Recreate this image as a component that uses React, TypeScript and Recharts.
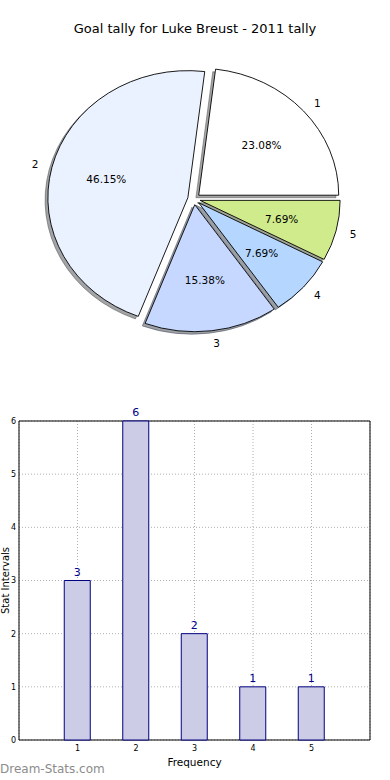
import React from 'react'
import { PieChart, Pie, Cell, BarChart, Bar, XAxis, YAxis, CartesianGrid, LabelList, ReferenceArea } from 'recharts'

// pie slices
const sliceNames = ['1', '2', '3', '4', '5']
const sliceValues = [3, 6, 2, 1, 1]
const sliceColors = ['#ffffff', '#ebf2ff', '#c6d8ff', '#b4d6ff', '#cfeb8b']

// bar chart
const barCategories = [1, 2, 3, 4, 5]
const barValues = [3, 6, 2, 1, 1]
const xTicks = [1, 2, 3, 4, 5]
const yTicks = [0, 1, 2, 3, 4, 5, 6]

const pieData = sliceNames.map((name, i) => ({ name, value: sliceValues[i] }))
const barData = barCategories.map((freq, i) => ({ freq, count: barValues[i] }))

const FONT = '"DejaVu Sans", sans-serif'
const RAD = Math.PI / 180
const Y_RATIO = 127 / 140 // pie is squashed like the original axes
const EXPLODE = 0.045
const SHADOW_DX = -2.8
const SHADOW_DY = 2.5

const explodeOffset = (mid: number, r: number) => ({
  ox: EXPLODE * r * Math.cos(mid * RAD),
  oy: -EXPLODE * r * Y_RATIO * Math.sin(mid * RAD),
})

const wedgePath = (cx: number, cy: number, rx: number, ry: number, a0: number, a1: number) => {
  const x0 = cx + rx * Math.cos(a0 * RAD)
  const y0 = cy - ry * Math.sin(a0 * RAD)
  const x1 = cx + rx * Math.cos(a1 * RAD)
  const y1 = cy - ry * Math.sin(a1 * RAD)
  const large = Math.abs(a1 - a0) > 180 ? 1 : 0
  const sweep = a1 > a0 ? 0 : 1
  return `M${cx},${cy} L${x0},${y0} A${rx},${ry} 0 ${large} ${sweep} ${x1},${y1} Z`
}

const Wedge = (props: any) => {
  const { cx, cy, outerRadius, startAngle, endAngle, fill } = props
  const { ox, oy } = explodeOffset((startAngle + endAngle) / 2, outerRadius)
  return (
    <path
      d={wedgePath(cx + ox, cy + oy, outerRadius, outerRadius * Y_RATIO, startAngle, endAngle)}
      fill={fill}
      stroke="#000"
      strokeWidth={0.9}
      strokeLinejoin="round"
    />
  )
}

const WedgeShadow = (props: any) => {
  const { cx, cy, outerRadius, startAngle, endAngle, fill } = props
  const { ox, oy } = explodeOffset((startAngle + endAngle) / 2, outerRadius)
  return (
    <path
      d={wedgePath(cx + ox + SHADOW_DX, cy + oy + SHADOW_DY, outerRadius, outerRadius * Y_RATIO, startAngle, endAngle)}
      fill={fill}
      fillOpacity={0.5}
      stroke={fill}
      strokeOpacity={0.5}
      strokeWidth={1}
    />
  )
}

const shade = (hex: string) => {
  const n = parseInt(hex.slice(1), 16)
  const r = Math.round(((n >> 16) & 255) * 0.3)
  const g = Math.round(((n >> 8) & 255) * 0.3)
  const b = Math.round((n & 255) * 0.3)
  return `rgb(${r},${g},${b})`
}

const pieLabel = (props: any) => {
  const { cx, cy, midAngle, outerRadius, percent, name } = props
  const { ox, oy } = explodeOffset(midAngle, outerRadius)
  const rx = outerRadius
  const ry = outerRadius * Y_RATIO
  const c = Math.cos(midAngle * RAD)
  const s = Math.sin(midAngle * RAD)
  return (
    <g>
      <text
        x={cx + ox + 1.1 * rx * c}
        y={cy + oy - 1.1 * ry * s}
        textAnchor={c > 0 ? 'start' : 'end'}
        dominantBaseline="central"
        fontSize={10.5}
        fontFamily={FONT}
        fill="#000"
      >
        {name}
      </text>
      <text
        x={cx + ox + 0.6 * rx * c}
        y={cy + oy - 0.6 * ry * s}
        textAnchor="middle"
        dominantBaseline="central"
        fontSize={10.5}
        fontFamily={FONT}
        fill="#000"
      >
        {(percent * 100).toFixed(2) + '%'}
      </text>
    </g>
  )
}

const yLabel = (props: any) => {
  const vb = props.viewBox || { x: 0, y: 421, width: 19, height: 319 }
  const x = 8.5
  const y = vb.y + vb.height / 2
  return (
    <text x={x} y={y} transform={`rotate(-90, ${x}, ${y})`} textAnchor="middle" fontSize={10} fontFamily={FONT} fill="#000">
      Stat Intervals
    </text>
  )
}

export default function App() {
  return (
    <div style={{ position: 'absolute', left: 0, top: 0, width: 390, height: 780, background: '#fff', fontFamily: FONT }}>
      <div style={{ position: 'absolute', left: 0, top: 21, width: 390, textAlign: 'center', fontSize: 13, color: '#000' }}>
        Goal tally for Luke Breust - 2011 tally
      </div>

      <div style={{ position: 'absolute', left: 0, top: 0 }}>
        <PieChart width={390} height={370} margin={{ top: 0, right: 0, bottom: 0, left: 0 }}>
          <Pie
            data={pieData}
            dataKey="value"
            nameKey="name"
            cx={194}
            cy={199}
            outerRadius={140}
            startAngle={0}
            endAngle={360}
            stroke="none"
            isAnimationActive={false}
            shape={WedgeShadow}
            inactiveShape={WedgeShadow}
            activeShape={WedgeShadow}
            label={false}
            labelLine={false}
          >
            {pieData.map((d, i) => (
              <Cell key={d.name} fill={shade(sliceColors[i])} />
            ))}
          </Pie>
          <Pie
            data={pieData}
            dataKey="value"
            nameKey="name"
            cx={194}
            cy={199}
            outerRadius={140}
            startAngle={0}
            endAngle={360}
            stroke="#000"
            isAnimationActive={false}
            shape={Wedge}
            inactiveShape={Wedge}
            activeShape={Wedge}
            label={pieLabel}
            labelLine={false}
          >
            {pieData.map((d, i) => (
              <Cell key={d.name} fill={sliceColors[i]} />
            ))}
          </Pie>
        </PieChart>
      </div>

      <div style={{ position: 'absolute', left: 0, top: 400 }}>
        <BarChart width={390} height={370} data={barData} margin={{ top: 21, right: 20, bottom: 0, left: 0 }}>
          <CartesianGrid stroke="#b0b0b0" strokeDasharray="1 2" />
          <XAxis
            dataKey="freq"
            type="number"
            domain={[0, 6]}
            ticks={xTicks}
            height={30}
            axisLine={false}
            tickLine={false}
            tickSize={0}
            tickMargin={5}
            tick={{ fontSize: 8, fill: '#000', fontFamily: FONT }}
            label={{ value: 'Frequency', position: 'insideBottom', offset: 4, fontSize: 10.5, fill: '#000', fontFamily: FONT }}
          />
          <YAxis
            type="number"
            domain={[0, 6]}
            ticks={yTicks}
            width={19}
            axisLine={false}
            tickLine={false}
            tickSize={0}
            tickMargin={3}
            tick={{ fontSize: 8, fill: '#000', fontFamily: FONT }}
            label={yLabel}
          />
          <ReferenceArea x1={0} x2={6} y1={0} y2={6} fill="none" stroke="#000" strokeWidth={1} ifOverflow="visible" />
          <Bar dataKey="count" barSize={26} fill="#ccccE6" stroke="#000080" strokeWidth={1} isAnimationActive={false}>
            <LabelList dataKey="count" position="top" offset={5} fill="#00008b" fontSize={11} fontFamily={FONT} />
          </Bar>
        </BarChart>
      </div>

      <div style={{ position: 'absolute', left: 0, top: 762, fontSize: 12, color: '#8c8c8c' }}>Dream-Stats.com</div>
    </div>
  )
}
